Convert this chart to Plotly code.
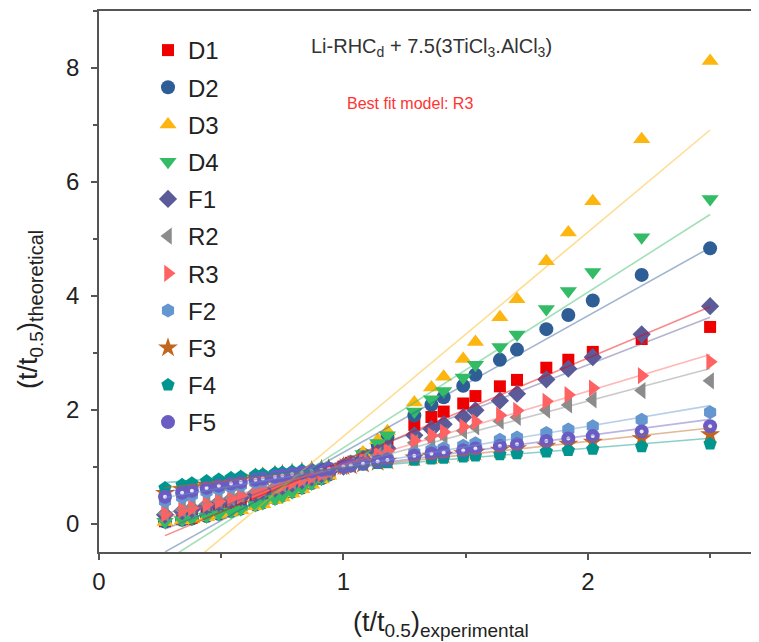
import numpy as np
import plotly.graph_objects as go

x_exp = [0.27, 0.34, 0.38, 0.44, 0.49, 0.54, 0.58, 0.64, 0.67, 0.72, 0.75, 0.79, 0.83, 0.87,
         0.91, 0.94, 1.00, 1.03, 1.08, 1.14, 1.18, 1.29, 1.36, 1.41, 1.49, 1.54, 1.64, 1.71,
         1.83, 1.92, 2.02, 2.22, 2.50]

D1 = [0.04, 0.076, 0.102, 0.149, 0.195, 0.246, 0.292, 0.367, 0.407, 0.482, 0.527, 0.593, 0.663, 0.736,
      0.814, 0.872, 1.0, 1.065, 1.184, 1.332, 1.435, 1.732, 1.871, 1.966, 2.108, 2.238, 2.409, 2.522,
      2.736, 2.876, 3.014, 3.24, 3.452]
D2 = [0.034, 0.065, 0.088, 0.130, 0.172, 0.219, 0.263, 0.335, 0.374, 0.448, 0.494, 0.561, 0.633, 0.711,
      0.794, 0.858, 1.0, 1.074, 1.212, 1.389, 1.516, 1.898, 2.086, 2.217, 2.420, 2.612, 2.874, 3.054,
      3.413, 3.661, 3.916, 4.366, 4.832]
D3 = [0.028, 0.055, 0.075, 0.112, 0.150, 0.193, 0.233, 0.302, 0.340, 0.412, 0.458, 0.526, 0.601, 0.682,
      0.771, 0.841, 1.0, 1.085, 1.246, 1.461, 1.620, 2.124, 2.389, 2.579, 2.887, 3.188, 3.623, 3.939,
      4.607, 5.110, 5.660, 6.746, 8.12]
D4 = [0.032, 0.062, 0.083, 0.123, 0.165, 0.210, 0.252, 0.324, 0.362, 0.436, 0.481, 0.549, 0.622, 0.701,
      0.786, 0.853, 1.0, 1.078, 1.223, 1.412, 1.550, 1.968, 2.181, 2.329, 2.565, 2.789, 3.101, 3.320,
      3.765, 4.082, 4.415, 5.028, 5.699]
F1 = [0.152, 0.214, 0.252, 0.309, 0.360, 0.411, 0.454, 0.521, 0.554, 0.615, 0.651, 0.701, 0.754, 0.808,
      0.865, 0.908, 1.0, 1.047, 1.133, 1.241, 1.318, 1.548, 1.662, 1.742, 1.868, 1.989, 2.158, 2.279,
      2.531, 2.718, 2.921, 3.322, 3.816]
R2 = [0.175, 0.244, 0.285, 0.347, 0.401, 0.454, 0.497, 0.564, 0.597, 0.655, 0.689, 0.737, 0.785, 0.834,
      0.885, 0.922, 1.0, 1.039, 1.109, 1.194, 1.252, 1.418, 1.495, 1.547, 1.627, 1.700, 1.798, 1.865,
      1.994, 2.083, 2.174, 2.335, 2.505]
R3 = [0.167, 0.234, 0.274, 0.334, 0.387, 0.439, 0.483, 0.550, 0.583, 0.642, 0.677, 0.725, 0.775, 0.826,
      0.878, 0.917, 1.0, 1.042, 1.116, 1.209, 1.273, 1.457, 1.546, 1.606, 1.699, 1.786, 1.903, 1.985,
      2.146, 2.261, 2.379, 2.597, 2.840]
F2 = [0.390, 0.463, 0.502, 0.556, 0.600, 0.641, 0.674, 0.722, 0.745, 0.784, 0.807, 0.837, 0.868, 0.899,
      0.930, 0.953, 1.0, 1.023, 1.064, 1.114, 1.148, 1.244, 1.289, 1.320, 1.367, 1.410, 1.469, 1.510,
      1.591, 1.649, 1.709, 1.823, 1.954]
F3 = [0.534, 0.598, 0.631, 0.676, 0.712, 0.744, 0.769, 0.805, 0.821, 0.850, 0.867, 0.889, 0.910, 0.932,
      0.953, 0.968, 1.0, 1.015, 1.043, 1.075, 1.097, 1.157, 1.185, 1.203, 1.232, 1.258, 1.292, 1.316,
      1.363, 1.396, 1.430, 1.492, 1.563]
F4 = [0.624, 0.680, 0.708, 0.746, 0.775, 0.801, 0.821, 0.850, 0.863, 0.886, 0.898, 0.915, 0.932, 0.948,
      0.964, 0.976, 1.0, 1.012, 1.032, 1.056, 1.072, 1.115, 1.135, 1.149, 1.169, 1.188, 1.212, 1.229,
      1.261, 1.284, 1.307, 1.350, 1.398]
F5 = [0.471, 0.540, 0.576, 0.626, 0.665, 0.701, 0.729, 0.770, 0.790, 0.823, 0.842, 0.868, 0.893, 0.918,
      0.944, 0.962, 1.0, 1.019, 1.051, 1.090, 1.117, 1.191, 1.225, 1.249, 1.284, 1.317, 1.360, 1.390,
      1.450, 1.492, 1.535, 1.616, 1.709]

series_names = ["D1", "D2", "D3", "D4", "F1", "R2", "R3", "F2", "F3", "F4", "F5"]
series_values = [D1, D2, D3, D4, F1, R2, R3, F2, F3, F4, F5]
symbols = ["square", "circle", "triangle-up", "triangle-down", "diamond", "triangle-left",
           "triangle-right", "hexagon", "star", "pentagon", "circle"]
colors = ["#ee0000", "#2f5d96", "#fdb60f", "#33bb66", "#5b5b9a", "#8c8c8c",
          "#ff6262", "#6497d0", "#c2651f", "#009690", "#6a5cc2"]
sizes = [12, 14, 15, 15, 14, 15, 15, 14, 15, 14, 14]

# figure geometry (page body adds an 8 px offset)
W, H = 751, 634
ML, MR, MT, MB = 91, 0, 3, 90
PW, PH = W - ML - MR, H - MT - MB


def px2paper(sx, sy):
    fx, fy = sx - 8, sy - 8
    return (fx - ML) / PW, (H - MB - fy) / PH


fig = go.Figure()
xs = np.array(x_exp)
xfit = np.array([xs.min(), xs.max()])

for name, vals, sym, col, sz in zip(series_names, series_values, symbols, colors, sizes):
    fig.add_trace(go.Scatter(
        x=x_exp, y=vals, mode="markers", name=name, legendgroup=name,
        marker=dict(symbol=sym, color=col, size=sz, line=dict(width=0)),
    ))
    if name == "F5":
        fig.add_trace(go.Scatter(
            x=x_exp, y=vals, mode="markers", showlegend=False, hoverinfo="skip",
            marker=dict(symbol="circle", color="rgba(255,255,255,0.85)", size=4, line=dict(width=0)),
        ))

for name, vals, col in zip(series_names, series_values, colors):
    k, b = np.polyfit(xs, np.array(vals), 1)
    fig.add_trace(go.Scatter(
        x=xfit, y=k * xfit + b, mode="lines", showlegend=False, hoverinfo="skip",
        line=dict(color=col, width=1.6), opacity=0.45,
    ))

font_family = "Arial, Liberation Sans, sans-serif"

lx, ly = px2paper(148, 28)
a1x, a1y = px2paper(309, 48)
a2x, a2y = px2paper(345, 104)
tx, ty = px2paper(441, 624)
yx, yy = px2paper(30, 310)

fig.update_layout(
    width=W, height=H,
    margin=dict(l=ML, r=MR, t=MT, b=MB),
    paper_bgcolor="white", plot_bgcolor="white",
    font=dict(family=font_family, color="#222222"),
    showlegend=True,
    legend=dict(
        x=lx, y=ly, xanchor="left", yanchor="top",
        font=dict(size=24, color="#222222", family=font_family),
        bgcolor="rgba(0,0,0,0)", traceorder="grouped", tracegroupgap=3,
        itemwidth=30,
    ),
    xaxis=dict(
        range=[0, 2.7], dtick=1, tick0=0, automargin=False,
        showgrid=False, zeroline=False,
        showline=True, linecolor="#555555", linewidth=1.5, mirror=True,
        ticks="outside", ticklen=6, tickwidth=1.5, tickcolor="#555555",
        tickfont=dict(size=24, color="#222222"), ticklabelstandoff=1,
        minor=dict(dtick=0.5, ticks="outside", ticklen=4, tickwidth=1.5, tickcolor="#555555"),
    ),
    yaxis=dict(
        range=[-0.5, 9.0], dtick=2, tick0=0, automargin=False,
        showgrid=False, zeroline=False,
        showline=True, linecolor="#555555", linewidth=1.5,
        ticks="outside", ticklen=6, tickwidth=1.5, tickcolor="#555555",
        tickfont=dict(size=24, color="#222222"), ticklabelstandoff=7,
        minor=dict(dtick=1, ticks="outside", ticklen=4, tickwidth=1.5, tickcolor="#555555"),
    ),
    annotations=[
        dict(text="Li-RHC<sub>d</sub> + 7.5(3TiCl<sub>3</sub>.AlCl<sub>3</sub>)", x=a1x, y=a1y,
             xref="paper", yref="paper", xanchor="left", yanchor="middle", showarrow=False,
             font=dict(size=20, color="#333333")),
        dict(text="Best fit model: R3", x=a2x, y=a2y,
             xref="paper", yref="paper", xanchor="left", yanchor="middle", showarrow=False,
             font=dict(size=16, color="#ff3333")),
        dict(text="(t/t<sub><span style='font-size:19px'>0.5</span></sub>)"
                  "<sub><span style='font-size:19px'>experimental</span></sub>",
             x=tx, y=ty, xref="paper", yref="paper", showarrow=False,
             xanchor="center", yanchor="middle", font=dict(size=27, color="#222222")),
        dict(text="(t/t<sub><span style='font-size:19px'>0.5</span></sub>)"
                  "<sub><span style='font-size:20px'>theoretical</span></sub>",
             x=yx, y=yy, textangle=-90, xref="paper", yref="paper", showarrow=False,
             xanchor="center", yanchor="middle", font=dict(size=27, color="#222222")),
    ],
)

fig.write_html("out.html")
